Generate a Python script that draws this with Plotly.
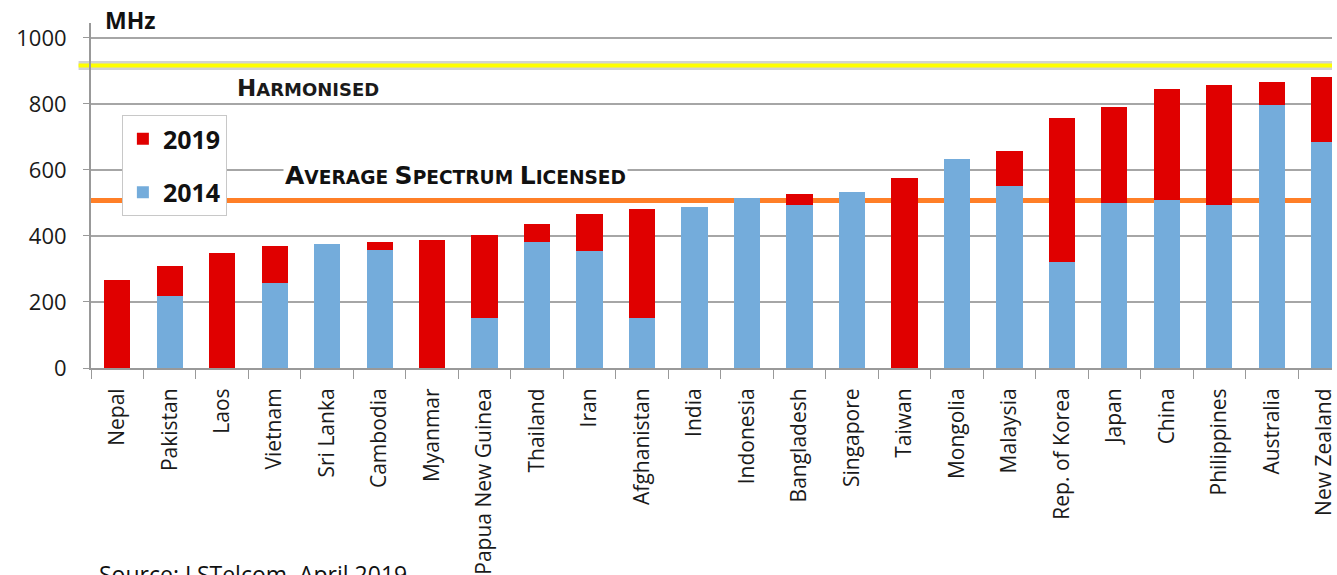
import plotly.graph_objects as go

countries = ["Nepal", "Pakistan", "Laos", "Vietnam", "Sri Lanka", "Cambodia", "Myanmar",
             "Papua New Guinea", "Thailand", "Iran", "Afghanistan", "India", "Indonesia",
             "Bangladesh", "Singapore", "Taiwan", "Mongolia", "Malaysia", "Rep. of Korea",
             "Japan", "China", "Philippines", "Australia", "New Zealand"]
spectrum_2014 = [0, 218, 0, 258, 375, 357, 0, 150, 381, 354, 150, 487, 516, 493, 533,
                 0, 634, 550, 320, 500, 510, 494, 797, 685]
spectrum_2019 = [268, 308, 347, 370, 375, 381, 387, 402, 436, 465, 481, 487, 516, 527, 533,
                 577, 634, 656, 758, 791, 846, 858, 866, 880]
harmonised = 916
average_licensed = 507
y_ticks = [0, 200, 400, 600, 800, 1000]

added_2019 = [b - a for a, b in zip(spectrum_2014, spectrum_2019)]

fig = go.Figure()
fig.add_trace(go.Bar(x=countries, y=spectrum_2014, name="<b>2014</b>",
                     marker=dict(color="#74ACDB", line=dict(width=0)),
                     legendgroup="a", legendrank=2))
fig.add_trace(go.Bar(x=countries, y=added_2019, name="<b>2019</b>",
                     marker=dict(color="#E00000", line=dict(width=0)),
                     legendgroup="b", legendrank=1))

# reference lines
fig.add_shape(type="line", xref="paper", yref="y", x0=-0.01, x1=1, y0=harmonised, y1=harmonised,
              line=dict(color="#D2D2D2", width=9), layer="between")
fig.add_shape(type="line", xref="paper", yref="y", x0=-0.01, x1=1, y0=harmonised, y1=harmonised,
              line=dict(color="#FFFF00", width=4), layer="between")
fig.add_shape(type="line", xref="paper", yref="y", x0=0, x1=1, y0=average_licensed, y1=average_licensed,
              line=dict(color="#FF7F27", width=5), layer="between")

fig.add_annotation(xref="paper", yref="y", x=(309 - 91) / 1246, y=848, xanchor="center",
                   text="<b><span style='font-size:23px'>H</span>ARMONISED</b>",
                   showarrow=False, font=dict(family="DejaVu Sans", size=18, color="#1a1a1a"))
fig.add_annotation(xref="paper", yref="y", x=(457 - 91) / 1246, y=582, xanchor="center",
                   text="<b><span style='font-size:25px'>A</span>VERAGE <span style='font-size:25px'>S</span>PECTRUM <span style='font-size:25px'>L</span>ICENSED</b>",
                   showarrow=False, bgcolor="white", borderpad=1,
                   font=dict(family="DejaVu Sans", size=18.6, color="#111111"))
fig.add_annotation(xref="paper", yref="paper", x=(103 - 91) / 1246, y=(368 - 20) / 345,
                   xanchor="left", yanchor="middle", text="<b>MHz</b>", showarrow=False,
                   font=dict(family="Open Sans", size=23, color="#111111"))
fig.add_annotation(xref="paper", yref="paper", x=(97 - 91) / 1246, y=(368 - 556) / 345,
                   xanchor="left", yanchor="top", text="Source: LSTelcom, April 2019",
                   showarrow=False, font=dict(family="Open Sans", size=23, color="#111111"))

fig.update_layout(
    width=1337, height=575,
    margin=dict(l=91, r=0, t=23, b=207),
    paper_bgcolor="white", plot_bgcolor="white",
    barmode="stack", bargap=0.5,
    showlegend=True,
    legend=dict(x=(122 - 91) / 1246, y=(368 - 115) / 345, xanchor="left", yanchor="top",
                bgcolor="white", bordercolor="#C8C8C8", borderwidth=1,
                traceorder="grouped", tracegroupgap=18,
                font=dict(family="Open Sans", size=25, color="#111111")),
    xaxis=dict(range=[-0.5, 23.147], tickangle=-90, tickson="boundaries", ticks="outside",
               ticklen=9, tickcolor="#999999", showline=True, linecolor="#999999", linewidth=2,
               showgrid=False, tickfont=dict(family="Open Sans", size=21, color="#1a1a1a"),
               ticklabelstandoff=10, fixedrange=True),
    yaxis=dict(range=[0, 1045], tickvals=y_ticks, ticks="outside", ticklen=6,
               tickcolor="#999999", showline=True, linecolor="#999999", linewidth=2,
               showgrid=True, gridcolor="#A6A6A6", gridwidth=2, zeroline=False,
               tickfont=dict(family="Open Sans", size=22, color="#1a1a1a"),
               ticklabelstandoff=12, fixedrange=True),
)

fig.write_html("out.html")
